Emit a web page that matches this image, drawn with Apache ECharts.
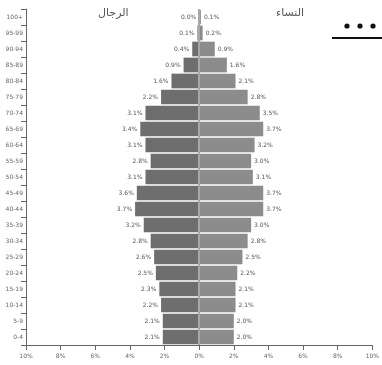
<!DOCTYPE html>
<html>
<head>
<meta charset="utf-8">
<script src="https://cdn.jsdelivr.net/npm/echarts@6/dist/echarts.min.js"></script>
<style>
  html, body { margin: 0; padding: 0; background: #fff; }
  #main { width: 382px; height: 365px; }
</style>
</head>
<body>
<div id="main"></div>
<script>
// age groups, bottom to top
const ageGroups = ['0-4', '5-9', '10-14', '15-19', '20-24', '25-29', '30-34', '35-39', '40-44', '45-49',
  '50-54', '55-59', '60-64', '65-69', '70-74', '75-79', '80-84', '85-89', '90-94', '95-99', '100+'];
// percent of population
const menValues = [2.1, 2.1, 2.2, 2.3, 2.5, 2.6, 2.8, 3.2, 3.7, 3.6,
  3.1, 2.8, 3.1, 3.4, 3.1, 2.2, 1.6, 0.9, 0.4, 0.1, 0.0];
const womenValues = [2.0, 2.0, 2.1, 2.1, 2.2, 2.5, 2.8, 3.0, 3.7, 3.7,
  3.1, 3.0, 3.2, 3.7, 3.5, 2.8, 2.1, 1.6, 0.9, 0.2, 0.1];
const xTicks = [-10, -8, -6, -4, -2, 0, 2, 4, 6, 8, 10];

const titleMen = 'الرجال';
const titleWomen = 'النساء';

let chart = echarts.init(document.getElementById('main'));

const pct = v => Math.abs(v).toFixed(1) + '%';

let option = {
  animation: false,
  textStyle: { fontFamily: 'DejaVu Sans' },
  grid: { left: 26, right: 7, top: 9, bottom: 20 },
  graphic: [
    { type: 'text', left: 98, top: 8, style: { text: titleMen, fontSize: 11, fill: '#555', fontFamily: 'DejaVu Sans' } },
    { type: 'text', left: 276, top: 8, style: { text: titleWomen, fontSize: 11, fill: '#555', fontFamily: 'DejaVu Sans' } },
    { type: 'circle', shape: { cx: 347, cy: 26, r: 2.6 }, style: { fill: '#111' } },
    { type: 'circle', shape: { cx: 360, cy: 26, r: 2.6 }, style: { fill: '#111' } },
    { type: 'circle', shape: { cx: 373, cy: 26, r: 2.6 }, style: { fill: '#111' } },
    { type: 'line', shape: { x1: 332, y1: 38, x2: 382, y2: 38 }, style: { stroke: '#111', lineWidth: 2 } }
  ],
  xAxis: {
    type: 'value',
    min: xTicks[0],
    max: xTicks[xTicks.length - 1],
    interval: 2,
    axisLine: { show: true, lineStyle: { color: '#666' } },
    axisTick: { show: true, lineStyle: { color: '#666' } },
    splitLine: { show: false },
    axisLabel: { fontSize: 6, color: '#666', formatter: v => Math.abs(v) + '%' }
  },
  yAxis: {
    type: 'category',
    data: ageGroups,
    position: 'left',
    axisLine: { show: true, onZero: false, lineStyle: { color: '#666' } },
    axisTick: { show: true, lineStyle: { color: '#666' } },
    axisLabel: { fontSize: 6, color: '#666', margin: 3 }
  },
  series: [
    {
      name: titleMen,
      type: 'bar',
      stack: 'pop',
      barCategoryGap: '8%',
      data: menValues.map(v => -v),
      itemStyle: { color: '#6e6e6e' },
      label: { show: true, position: 'left', fontSize: 6, color: '#555', distance: 3, formatter: p => pct(p.value) },
      markLine: {
        silent: true,
        symbol: 'none',
        label: { show: false },
        lineStyle: { color: '#a8a8a8', width: 2, type: 'solid' },
        data: [{ xAxis: 0 }]
      }
    },
    {
      name: titleWomen,
      type: 'bar',
      stack: 'pop',
      barCategoryGap: '8%',
      data: womenValues,
      itemStyle: { color: '#8c8c8c' },
      label: { show: true, position: 'right', fontSize: 6, color: '#555', distance: 3, formatter: p => pct(p.value) }
    }
  ]
};

chart.setOption(option);
</script>
</body>
</html>
